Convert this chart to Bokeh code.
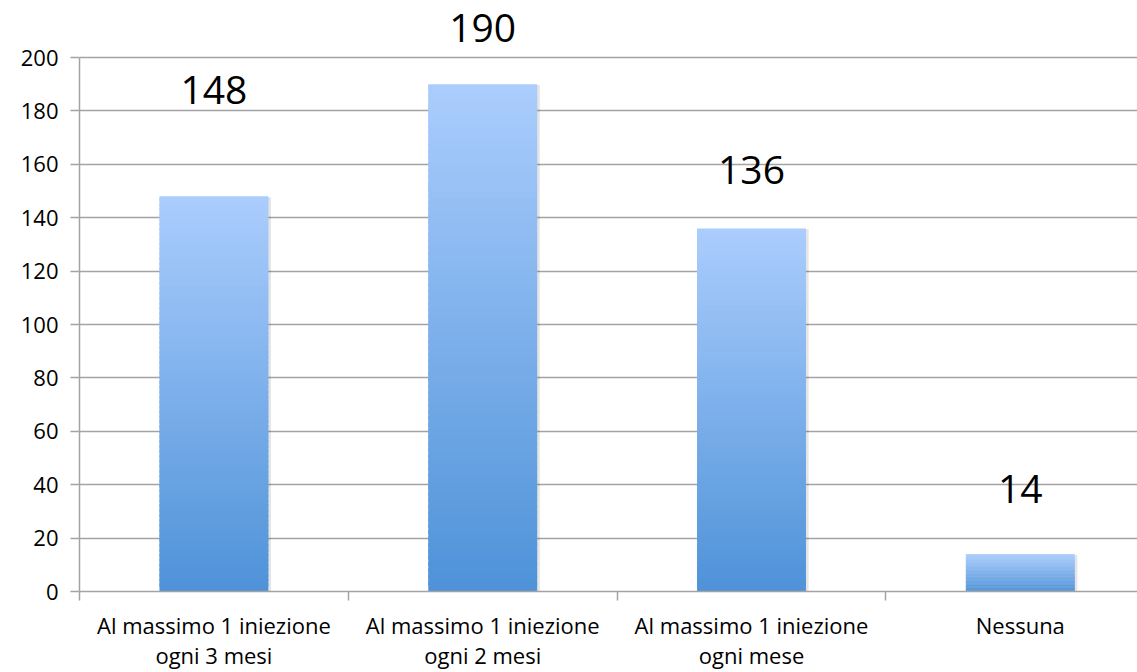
from bokeh.plotting import figure
from bokeh.models import Range1d, FixedTicker, ColumnDataSource, LabelSet
from bokeh.core.properties import value
from bokeh.embed import file_html
from bokeh.resources import INLINE
import numpy as np

categories = ["Al massimo 1 iniezione\nogni 3 mesi",
              "Al massimo 1 iniezione\nogni 2 mesi",
              "Al massimo 1 iniezione\nogni mese",
              "Nessuna"]
values = [148, 190, 136, 14]
y_ticks = [0, 20, 40, 60, 80, 100, 120, 140, 160, 180, 200]

# layout / style settings
label_gap_px = [92, 42, 44, 51]
bar_width = 0.405
top_rgb = np.array([171, 205, 253])
bot_rgb = np.array([78, 146, 216])
FONT = "Open Sans"
GRID = "#a3a3a3"

W, H = 1137, 672
p = figure(width=W, height=H, output_backend="svg", toolbar_location=None,
           x_range=Range1d(0, 3.936), y_range=Range1d(0, 221.35),
           min_border_left=79, min_border_right=0, min_border_top=0,
           min_border_bottom=81)
p.outline_line_color = None
p.background_fill_color = "white"
p.border_fill_color = "white"

centers = [i + 0.5 for i in range(len(values))]

# shadows
p.quad(left=[c - bar_width / 2 + 0.004 for c in centers],
       right=[c + bar_width / 2 + 0.010 for c in centers],
       bottom=[-0.8] * len(values), top=[v - 0.3 for v in values],
       fill_color="black", fill_alpha=0.10, line_color=None)

# gradient bars built from slices
N = 80
L, R, B, T, C = [], [], [], [], []
for c, v in zip(centers, values):
    for k in range(N):
        f0 = k / N
        f1 = (k + 1) / N
        L.append(c - bar_width / 2)
        R.append(c + bar_width / 2)
        B.append(v * f0)
        T.append(v * f1 + (v / N) * 0.7 if k < N - 1 else v)
        t = (k + 0.5) / N
        rgb = bot_rgb + (top_rgb - bot_rgb) * t
        C.append("#%02x%02x%02x" % tuple(int(round(x)) for x in rgb))
p.quad(left=L, right=R, bottom=B, top=T, fill_color=C, line_color=None)

# value labels
src = ColumnDataSource(dict(x=centers, y=values, txt=[str(v) for v in values],
                            off=label_gap_px))
p.add_layout(LabelSet(x="x", y="y", text="txt", y_offset="off", source=src,
                      text_align="center", text_baseline="alphabetic",
                      text_font=value(FONT), text_font_size="39px",
                      text_color="black"))

# y axis
ya = p.yaxis[0]
ya.ticker = FixedTicker(ticks=y_ticks)
ya.bounds = (0, 200)
ya.axis_line_color = GRID
ya.axis_line_width = 1.5
ya.major_tick_line_color = GRID
ya.major_tick_line_width = 1.5
ya.major_tick_out = 9
ya.major_tick_in = 0
ya.minor_tick_line_color = None
ya.major_label_standoff = 12
ya.major_label_text_font = FONT
ya.major_label_text_font_size = "22px"
ya.major_label_text_color = "black"

p.ygrid.ticker = FixedTicker(ticks=y_ticks)
p.ygrid.grid_line_color = GRID
p.ygrid.grid_line_width = 1.5
p.xgrid.grid_line_color = None

# x axis: labels at category centres, ticks at category boundaries
xa = p.xaxis[0]
xa.ticker = FixedTicker(ticks=centers, minor_ticks=list(range(len(values) + 1)))
xa.major_label_overrides = {c: lab for c, lab in zip(centers, categories)}
xa.axis_line_color = GRID
xa.axis_line_width = 1.5
xa.major_tick_line_color = None
xa.major_tick_out = 0
xa.major_tick_in = 0
xa.minor_tick_line_color = GRID
xa.minor_tick_line_width = 1.5
xa.minor_tick_out = 9
xa.minor_tick_in = 0
xa.major_label_standoff = 9
xa.major_label_text_font = FONT
xa.major_label_text_font_size = "22px"
xa.major_label_text_line_height = 1.0
xa.major_label_text_color = "black"
xa.major_label_text_align = "center"

open("out.html", "w").write(file_html(p, INLINE))
